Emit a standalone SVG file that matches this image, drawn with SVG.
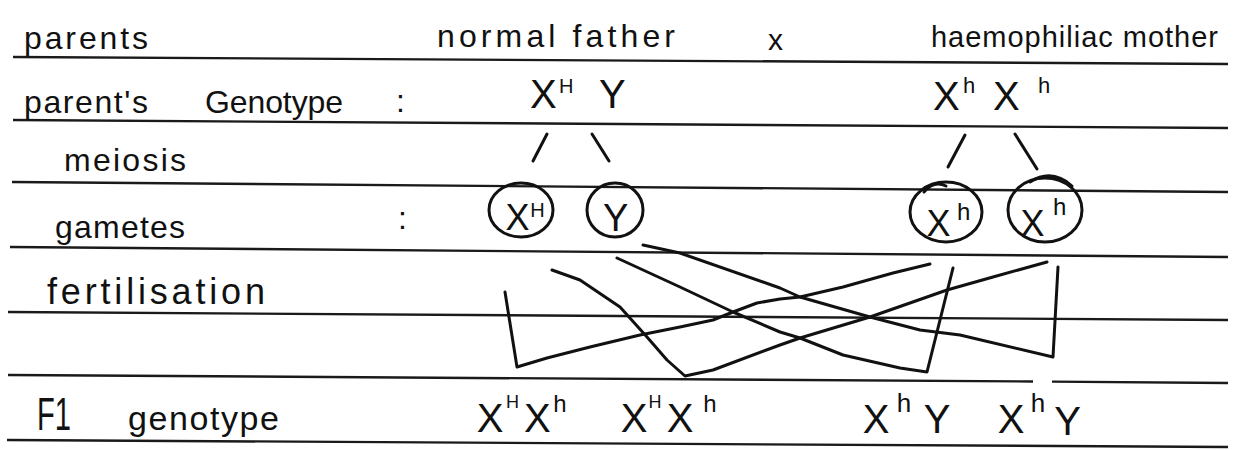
<svg xmlns="http://www.w3.org/2000/svg" width="1238" height="450" viewBox="0 0 1238 450">
<style>
 .rule{stroke:#1a1a1a;stroke-width:2.4;fill:none}
 .ink{stroke:#111;stroke-width:3;fill:none;stroke-linecap:round;stroke-linejoin:round}
 text{font-family:"Liberation Sans","DejaVu Sans",sans-serif;fill:#111}
 .lab{font-size:32px}
</style>
<rect width="1238" height="450" fill="#fff"/>
<g id="rules">
 <path class="rule" d="M13,57 L1228,64"/>
 <path class="rule" d="M13,120 L1228,128"/>
 <path class="rule" d="M12,182 L1228,192"/>
 <path class="rule" d="M10,247 L1228,257"/>
 <path class="rule" d="M8,312 L1228,320"/>
 <path class="rule" d="M8,375 L1033,381.5 M1052,381.6 L1228,383"/>
 <path class="rule" d="M7,440 L1228,447"/>
</g>
<g id="labels">
 <text class="lab" x="24" y="49" textLength="124" lengthAdjust="spacing">parents</text>
 <text class="lab" x="437" y="47" textLength="238" lengthAdjust="spacing">normal father</text>
 <text x="768" y="50" font-size="30">x</text>
 <text x="931" y="47" font-size="29" textLength="287" lengthAdjust="spacing">haemophiliac mother</text>
 <text class="lab" x="24" y="113" textLength="124" lengthAdjust="spacing">parent's</text>
 <text class="lab" x="205" y="113" textLength="138" lengthAdjust="spacing">Genotype</text>
 <text class="lab" x="396" y="112">:</text>
 <text class="lab" x="64" y="171" textLength="122" lengthAdjust="spacing">meiosis</text>
 <text class="lab" x="55" y="238" textLength="130" lengthAdjust="spacing">gametes</text>
 <text class="lab" x="398" y="229">:</text>
 <text x="47" y="304" font-size="36" textLength="218" lengthAdjust="spacing">fertilisation</text>
 <text x="37" y="430" font-size="46" textLength="34" lengthAdjust="spacingAndGlyphs">F1</text>
 <text x="128" y="430" font-size="34" textLength="151" lengthAdjust="spacing">genotype</text>
</g>
<g id="father-genotype">
 <text x="530" y="108" font-size="40">X<tspan x="559" y="93" font-size="20">H</tspan><tspan x="599" y="108" font-size="40">Y</tspan></text>
</g>
<g id="mother-genotype">
 <text x="933" y="110" font-size="40">X<tspan x="963" y="93" font-size="22">h</tspan><tspan x="993" y="110" font-size="40">X</tspan><tspan x="1038" y="93" font-size="22">h</tspan></text>
</g>
<g id="gamete-father-XH">
 <ellipse class="ink" cx="521" cy="210" rx="32" ry="27"/>
 <text x="505.5" y="230" font-size="36">X<tspan x="530.3" y="217" font-size="20">H</tspan></text>
</g>
<g id="gamete-father-Y">
 <ellipse class="ink" cx="615" cy="210" rx="28" ry="27"/>
 <text x="603" y="231" font-size="38">Y</text>
</g>
<g id="gamete-mother-Xh-1">
 <ellipse class="ink" cx="946" cy="212" rx="36" ry="30"/>
 <path class="ink" d="M924,192 Q934,180 946,186"/>
 <text x="926.5" y="236" font-size="36">X<tspan x="957" y="220" font-size="24">h</tspan></text>
</g>
<g id="gamete-mother-Xh-2">
 <ellipse class="ink" cx="1045" cy="210" rx="37" ry="32"/>
 <path class="ink" d="M1030,182 Q1052,168 1072,186"/>
 <text x="1020.5" y="236" font-size="36">X<tspan x="1053" y="215" font-size="24">h</tspan></text>
</g>
<g id="connectors">
 <path class="ink" d="M547,134 L533,161"/>
 <path class="ink" d="M592,134 L609,161"/>
 <path class="ink" d="M965,135 L948,167"/>
 <path class="ink" d="M1015,134 L1037,169"/>
 <path class="ink" d="M505,292 L517,367 L547,358 L590,347 L640,335 L680,327 L713,320 L733,312 L757,303 L780,299 L800,297 L843,287 L893,273 L930,264"/>
 <path class="ink" d="M552,270 L580,280 L620,307 L647,337 L667,360 L685,376 L713,370 L780,345 L800,338 L870,317 L947,290 L993,277 L1047,262"/>
 <path class="ink" d="M617,258 L680,287 L733,312 L780,332 L800,338 L843,355 L900,368 L927,372 L953,268"/>
 <path class="ink" d="M643,245 L680,253 L780,288 L800,297 L870,317 L920,330 L960,335 L1053,357 L1058,267"/>
</g>
<g id="offspring-1">
 <text x="476.7" y="432" font-size="40">X<tspan x="506" y="408" font-size="18">H</tspan><tspan x="524" y="432" font-size="40">X</tspan><tspan x="553.3" y="412" font-size="24">h</tspan></text>
</g>
<g id="offspring-2">
 <text x="620.7" y="432" font-size="40">X<tspan x="648.5" y="408" font-size="18">H</tspan><tspan x="666.7" y="432" font-size="40">X</tspan><tspan x="703.3" y="412" font-size="24">h</tspan></text>
</g>
<g id="offspring-3">
 <text x="862.7" y="433" font-size="40">X<tspan x="896.8" y="412" font-size="26">h</tspan><tspan x="923.7" y="433" font-size="40">Y</tspan></text>
</g>
<g id="offspring-4">
 <text x="997.7" y="433" font-size="40">X<tspan x="1030.8" y="412" font-size="26">h</tspan><tspan x="1054.2" y="435" font-size="40">Y</tspan></text>
</g>
</svg>
